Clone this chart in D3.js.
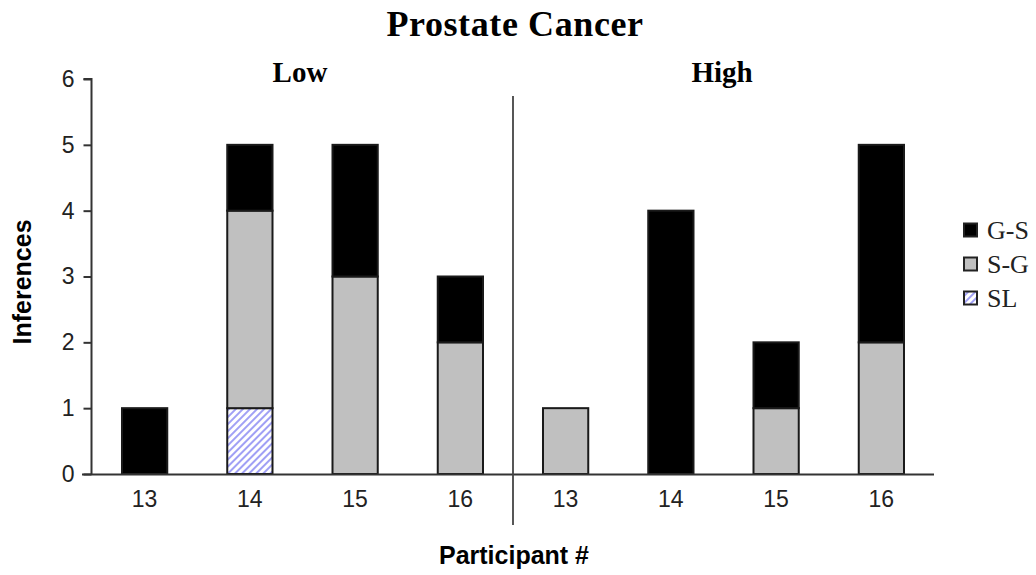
<!DOCTYPE html>
<html><head><meta charset="utf-8">
<script src="https://cdn.jsdelivr.net/npm/d3@7"></script>
<style>body{margin:0;background:#fff}svg{display:block}</style>
</head><body>
<svg id="c" width="1036" height="575"></svg>
<script>
const groups = ["Low","High"];
const participants = ["13","14","15","16"];
const seriesNames = ["SL","S-G","G-S"];           // bottom to top
const slValues  = [0,1,0,0, 0,0,0,0];
const sgValues  = [0,3,3,2, 1,0,1,2];
const gsValues  = [1,1,2,1, 0,4,1,3];
const yTicks = [0,1,2,3,4,5,6];
const legendOrder = ["G-S","S-G","SL"];

const svg = d3.select("#c");
const defs = svg.append("defs");
const pat = defs.append("pattern").attr("id","hatch").attr("patternUnits","userSpaceOnUse")
  .attr("width",5).attr("height",5).attr("patternTransform","rotate(45)");
pat.append("rect").attr("width",5).attr("height",5).attr("fill","#fff");
pat.append("rect").attr("x",0).attr("width",2).attr("height",5).attr("fill","#a0a0f5");

const fills = {"SL":"url(#hatch)","S-G":"#c0c0c0","G-S":"#000"};
const sans = "Arial, 'Liberation Sans', sans-serif";
const serif = "'Times New Roman', 'Liberation Serif', serif";

const cats = [];
groups.forEach(g=>participants.forEach(p=>cats.push(g+"|"+p)));
const rows = cats.map((c,i)=>({cat:c,"SL":slValues[i],"S-G":sgValues[i],"G-S":gsValues[i]}));

const x = d3.scaleBand().domain(cats).range([92,934]).paddingInner(0.57).paddingOuter(0.285);
const y = d3.scaleLinear().domain([0,6]).range([474,79]);

const stack = d3.stack().keys(seriesNames)(rows);
stack.forEach(s=>{
  svg.append("g").selectAll("rect").data(s.filter(d=>d[1]-d[0]>0)).join("rect")
    .attr("x",d=>x(d.data.cat)).attr("width",x.bandwidth())
    .attr("y",d=>y(d[1])).attr("height",d=>y(d[0])-y(d[1]))
    .attr("fill",fills[s.key]).attr("stroke","#1a1a1a").attr("stroke-width",2);
});

// y axis
const ya = svg.append("g").attr("transform","translate(91.5,0)")
  .call(d3.axisLeft(y).tickValues(yTicks).tickSize(8).tickPadding(9).tickFormat(d3.format("d")));
ya.select(".domain").attr("stroke","#333").attr("stroke-width",2).attr("d","M-8,"+y(6)+"H0V"+y(0));
ya.selectAll(".tick line").attr("stroke","#333").attr("stroke-width",2);
ya.selectAll("text").attr("font-family",sans).attr("font-size",23).attr("fill","#222");

// x axis
const xa = svg.append("g").attr("transform","translate(0,474.5)")
  .call(d3.axisBottom(x).tickSize(0).tickPadding(16).tickFormat(d=>d.split("|")[1]));
xa.select(".domain").attr("stroke","#333").attr("stroke-width",2).attr("d","M82,0H934");
xa.selectAll("text").attr("font-family",sans).attr("font-size",23).attr("fill","#222");

// divider
const divX = (x("Low|16")+x.bandwidth()+x("High|13"))/2;
svg.append("line").attr("x1",divX).attr("x2",divX).attr("y1",96).attr("y2",525)
  .attr("stroke","#444").attr("stroke-width",1.8);

// group labels
groups.forEach(g=>{
  svg.append("text").attr("x",g==="Low"?300:722).attr("y",82).attr("text-anchor","middle")
    .attr("font-family",serif).attr("font-weight","bold").attr("font-size",29).text(g);
});

// title
svg.append("text").attr("x",515).attr("y",36).attr("text-anchor","middle")
  .attr("font-family",serif).attr("font-weight","bold").attr("font-size",36)
  .attr("letter-spacing",0.6).text("Prostate Cancer");

// axis titles
svg.append("text").attr("transform","translate(31,282) rotate(-90)").attr("text-anchor","middle")
  .attr("font-family",sans).attr("font-weight","bold").attr("font-size",25).text("Inferences");
svg.append("text").attr("x",514).attr("y",564).attr("text-anchor","middle")
  .attr("font-family",sans).attr("font-weight","bold").attr("font-size",25).text("Participant #");

// legend
const lg = svg.append("g");
legendOrder.forEach((k,i)=>{
  const yy = 230 + i*34;
  lg.append("rect").attr("x",964).attr("y",yy-6.5).attr("width",13).attr("height",13)
    .attr("fill",fills[k]).attr("stroke","#222").attr("stroke-width",2);
  lg.append("text").attr("x",987).attr("y",yy+9).attr("font-family",serif).attr("font-size",26)
    .attr("fill","#222").text(k);
});
</script>
</body></html>
